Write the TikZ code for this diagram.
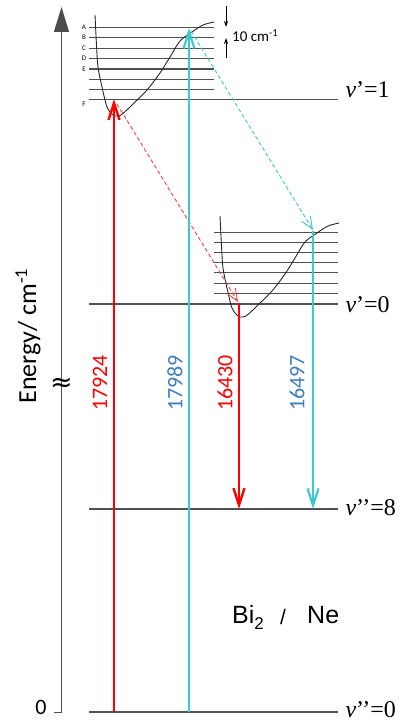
\documentclass[tikz,border=0pt]{standalone}
\usepackage{fontspec}
\setmainfont{Liberation Serif}
\newfontfamily\calfont{Carlito}
\newfontfamily\arialfont{Liberation Sans}
\newfontfamily\dejafont{DejaVu Sans}
\usetikzlibrary{arrows.meta}
\definecolor{myred}{RGB}{255,0,0}
\definecolor{mycyan}{RGB}{60,200,205}
\definecolor{myblue}{RGB}{62,125,190}
\definecolor{lvl}{RGB}{80,80,80}
\newcommand{\pescurve}{plot[smooth] coordinates {(95,15) (96.5,45) (98,67) (102,87) (107,107) (113,115) (118,116) (123,113.5) (133,104) (147,90) (160,73) (170,57) (180,41) (192,32) (203,25) (214,22)}}
\begin{document}
\begin{tikzpicture}[x=1pt,y=-1pt,
  level/.style={draw=lvl, line width=1.3pt},
  pes/.style={draw=black!85, line width=0.9pt},
  axisline/.style={draw=black!70, line width=1pt},
  solidred/.style={draw=myred, line width=2.4pt, -{Straight Barb[length=17pt,width=11pt]}},
  solidcyan/.style={draw=mycyan, line width=2.2pt, -{Straight Barb[length=17pt,width=11pt]}},
  dashred/.style={draw=myred!75, line width=0.9pt, dash pattern=on 4pt off 2.5pt, -{Straight Barb[length=12pt,width=10pt]}},
  dashcyan/.style={draw=mycyan, line width=0.9pt, dash pattern=on 4pt off 2.5pt, -{Straight Barb[length=12pt,width=10pt]}},
  numlab/.style={rotate=90, font=\calfont\fontsize{22}{22}\selectfont},
  vlab/.style={anchor=base west, font=\fontsize{24}{24}\selectfont},
  lett/.style={font=\calfont\fontsize{7}{7}\selectfont, inner sep=0pt},
  tiny/.style={draw=black, line width=0.8pt, -{Stealth[length=6pt,width=4pt]}},
  bilab/.style={anchor=base west, inner sep=0pt, font=\arialfont\fontsize{25}{25}\selectfont}
]
\useasboundingbox (0,0) rectangle (411,722);

% axis
\coordinate (ax0) at (61.5,712);
\coordinate (ax1) at (61.5,7);
\coordinate (tk) at (54,712);
\draw[axisline, -{Triangle[length=25pt,width=15pt]}] (ax0) -- (ax1);
\draw[axisline] (ax0) -- (tk);
\node[font=\calfont\fontsize{22}{22}\selectfont, inner sep=0pt] (zero) at (41,707) {0};
\node[font=\dejafont\fontsize{27}{27}\selectfont, inner sep=0pt] (brk) at (61.5,385) {≈};
\node[rotate=90, font=\calfont\fontsize{26}{26}\selectfont] (elab) at (28,336) {Energy/ cm\textsuperscript{-1}};

% upper manifold
\foreach \yy in {27.7,37.7,48.3,58.7,69,79.3,89.3} \draw[level] (89,\yy) -- (214,\yy);
\draw[level] (89,99.3) -- (338,99.3);
\foreach \yy/\tt in {27.7/A,37.7/B,48.3/C,58.7/D,69/E,104/F} \node[lett] at (84,\yy) {\tt};
\draw[pes] \pescurve;

% lower manifold
\foreach \yy in {232.3,242.3,252.7,262.7,272.7,283.3,293.3} \draw[level] (214,\yy) -- (338,\yy);
\draw[level] (89,304) -- (338,304);
\draw[pes, shift={(125,201)}] \pescurve;

% ground levels
\draw[level] (89,509) -- (338,509);
\draw[level] (89,712) -- (338,712);

% level labels
\node[vlab] (l1) at (342,98) {\textit{v}’=1};
\node[vlab] (l0) at (342,312) {\textit{v}’=0};
\node[vlab] (l8) at (342,515) {\textit{v}’’=8};
\node[vlab] (lg) at (342,717) {\textit{v}’’=0};

% 10 cm-1 marker
\coordinate (m1) at (226,6);
\coordinate (m2) at (226,27);
\coordinate (m3) at (226,58);
\coordinate (m4) at (226,38);
\draw[tiny] (m1) -- (m2);
\draw[tiny] (m3) -- (m4);
\node[anchor=base west, font=\calfont\fontsize{15}{15}\selectfont, inner sep=0pt] (ten) at (232,42) {10 cm\textsuperscript{-1}};

% transitions
\coordinate (r0) at (114,712); \coordinate (r1) at (114,99);
\coordinate (c0) at (189,712); \coordinate (c1) at (189,28);
\coordinate (rd0) at (117,104); \coordinate (rd1) at (238,302);
\coordinate (cd0) at (191,31); \coordinate (cd1) at (313,230);
\coordinate (r2) at (239,303); \coordinate (r3) at (239,509);
\coordinate (c2) at (313,231); \coordinate (c3) at (313,509);

\draw[dashred] (rd0) -- (rd1);
\draw[dashcyan] (cd0) -- (cd1);
\draw[solidred] (r0) -- (r1);
\draw[solidcyan] (c0) -- (c1);
\draw[solidred] (r2) -- (r3);
\draw[solidcyan] (c2) -- (c3);

\node[numlab, text=myred] (n1) at (100,383) {17924};
\node[numlab, text=myblue] (n2) at (175,383) {17989};
\node[numlab, text=myred] (n3) at (225,383) {16430};
\node[numlab, text=myblue] (n4) at (297,383) {16497};

\node[bilab] (bi) at (232,623) {Bi\raisebox{-6pt}{\fontsize{17}{17}\selectfont 2}};
\node[bilab, font=\arialfont\fontsize{21}{21}\selectfont] (sl) at (280,624) {/};
\node[bilab] (ne) at (307,623) {Ne};
\end{tikzpicture}
\end{document}
